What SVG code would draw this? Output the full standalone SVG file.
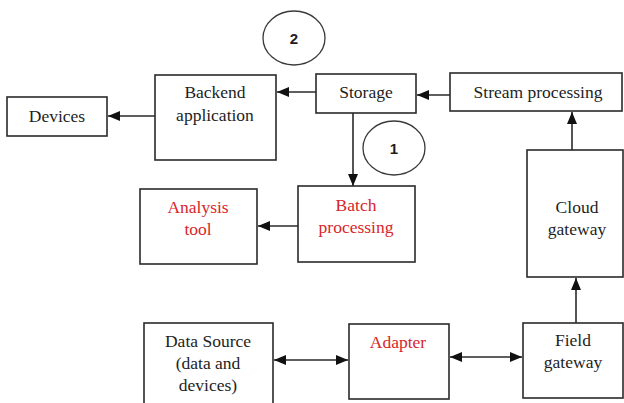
<svg xmlns="http://www.w3.org/2000/svg" width="624" height="403" viewBox="0 0 624 403">
  <style>
    .box { fill: #ffffff; stroke: #2a2a2a; stroke-width: 1.6; }
    .ring { fill: #ffffff; stroke: #3a3a3a; stroke-width: 1.3; }
    .wire { fill: none; stroke: #2a2a2a; stroke-width: 1.6; }
  </style>
  <defs>
    <marker id="head" markerUnits="userSpaceOnUse" markerWidth="13" markerHeight="11" refX="12" refY="5" orient="auto-start-reverse">
      <path d="M0,0 L12,5 L0,10 z" fill="#111111"/>
    </marker>
  </defs>
  <rect width="624" height="403" fill="#ffffff"/>

  <g id="connectors">
    <line class="wire" x1="155" y1="116" x2="108" y2="116" marker-end="url(#head)"/>
    <line class="wire" x1="316" y1="92" x2="277" y2="92" marker-end="url(#head)"/>
    <line class="wire" x1="450" y1="95" x2="417" y2="95" marker-end="url(#head)"/>
    <line class="wire" x1="353" y1="113" x2="353" y2="186" marker-end="url(#head)"/>
    <line class="wire" x1="298" y1="226" x2="258" y2="226" marker-end="url(#head)"/>
    <line class="wire" x1="572" y1="150" x2="572" y2="112" marker-end="url(#head)"/>
    <line class="wire" x1="576" y1="323" x2="576" y2="278" marker-end="url(#head)"/>
    <line class="wire" x1="274" y1="360" x2="348" y2="360" marker-start="url(#head)" marker-end="url(#head)"/>
    <line class="wire" x1="450" y1="357" x2="522" y2="357" marker-start="url(#head)" marker-end="url(#head)"/>
  </g>

  <g id="marker-2">
    <ellipse class="ring" cx="294" cy="38" rx="31" ry="27"/>
    <text x="294" y="44" font-family="Liberation Sans, Arial, sans-serif" font-size="15" font-weight="bold" fill="#1e1e1e" text-anchor="middle">2</text>
  </g>
  <g id="marker-1">
    <ellipse class="ring" cx="394" cy="148" rx="31" ry="27"/>
    <text x="394" y="154" font-family="Liberation Sans, Arial, sans-serif" font-size="15" font-weight="bold" fill="#1e1e1e" text-anchor="middle">1</text>
  </g>

  <g font-family="Liberation Serif, Times New Roman, DejaVu Serif, serif" font-size="17.5" text-anchor="middle" fill="#1e1e1e">
    <g id="devices">
      <rect class="box" x="7" y="97" width="100" height="39"/>
      <text x="57" y="122">Devices</text>
    </g>
    <g id="backend-application">
      <rect class="box" x="155" y="75" width="121" height="85"/>
      <text x="215" y="98">Backend</text>
      <text x="215" y="121">application</text>
    </g>
    <g id="storage">
      <rect class="box" x="316" y="74" width="100" height="39"/>
      <text x="366" y="98">Storage</text>
    </g>
    <g id="stream-processing">
      <rect class="box" x="450" y="73" width="172" height="38"/>
      <text x="538" y="98">Stream processing</text>
    </g>
    <g id="analysis-tool" fill="#d8262c">
      <rect class="box" x="140" y="189" width="117" height="75"/>
      <text x="198" y="213">Analysis</text>
      <text x="198" y="235">tool</text>
    </g>
    <g id="batch-processing" fill="#d8262c">
      <rect class="box" x="298" y="186" width="117" height="76"/>
      <text x="356" y="211">Batch</text>
      <text x="356" y="233">processing</text>
    </g>
    <g id="cloud-gateway">
      <rect class="box" x="527" y="150" width="96" height="127"/>
      <text x="577" y="213">Cloud</text>
      <text x="577" y="235">gateway</text>
    </g>
    <g id="data-source">
      <rect class="box" x="144" y="323" width="129" height="84"/>
      <text x="208" y="347">Data Source</text>
      <text x="208" y="369">(data and</text>
      <text x="208" y="391">devices)</text>
    </g>
    <g id="adapter" fill="#d8262c">
      <rect class="box" x="349" y="324" width="100" height="75"/>
      <text x="398" y="348">Adapter</text>
    </g>
    <g id="field-gateway">
      <rect class="box" x="523" y="323" width="100" height="75"/>
      <text x="573" y="346">Field</text>
      <text x="573" y="368">gateway</text>
    </g>
  </g>
</svg>
